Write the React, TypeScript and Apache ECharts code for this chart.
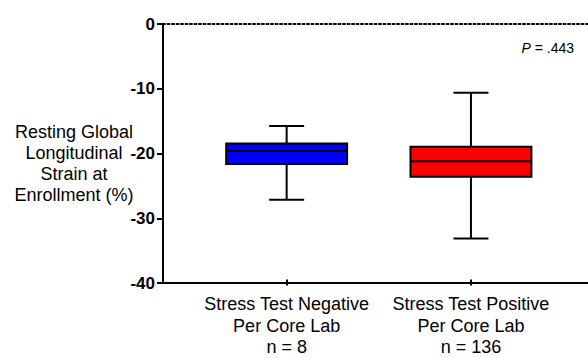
import React, { useEffect, useRef } from "react";
import * as echarts from "echarts";

const categories = ["Stress Test Negative\nPer Core Lab\nn = 8", "Stress Test Positive\nPer Core Lab\nn = 136"];
// [min, q1, median, q3, max]
const negativeBox = [-27.5, -21.9, -19.9, -18.7, -15.95];
const positiveBox = [-33.6, -23.9, -21.5, -19.2, -10.75];
const boxColors = ["#0000FF", "#FF0000"];
const yTicks = { min: -40, max: 0, interval: 10 };
const yAxisTitle = "Resting Global\nLongitudinal\nStrain at\nEnrollment (%)";
const pValue = ".443";

const FONT = "Arial, 'Liberation Sans', Helvetica, sans-serif";

export default function App() {
  const ref = useRef<HTMLDivElement>(null);
  useEffect(() => {
    if (!ref.current) return;
    const chart = echarts.init(ref.current, undefined, { renderer: "svg" });
    const boxes = [negativeBox, positiveBox];
    const data = boxes.map((b, i) => [i, ...b]);
    chart.setOption({
      animation: false,
      grid: [
        { left: 163, right: 0, top: 24, bottom: 75 },
        { left: 194.5, width: 368.6, top: 24, bottom: 75 },
      ],
      xAxis: [
        {
          gridIndex: 0, type: "value", min: 0, max: 1, position: "bottom",
          axisLine: { show: true, onZero: false, lineStyle: { color: "#000", width: 2 } },
          axisTick: { show: false }, axisLabel: { show: false }, splitLine: { show: false },
        },
        {
          gridIndex: 0, type: "value", min: 0, max: 1, position: "top",
          axisLine: { show: true, onZero: false, lineStyle: { color: "#000", width: 2, type: [2, 2.5] } },
          axisTick: { show: false }, axisLabel: { show: false }, splitLine: { show: false },
        },
        {
          gridIndex: 1, type: "category", data: categories, position: "bottom",
          axisLine: { show: true, onZero: false, lineStyle: { color: "rgba(0,0,0,0)", width: 0 } },
          axisTick: { show: true, alignWithLabel: true, length: 6, lineStyle: { color: "#000", width: 2 } },
          axisLabel: { interval: 0, color: "#000", fontFamily: FONT, fontSize: 18, lineHeight: 21.5, margin: 14 },
          splitLine: { show: false },
        },
      ],
      yAxis: [
        {
          gridIndex: 0, type: "value", min: yTicks.min, max: yTicks.max, interval: yTicks.interval,
          axisLine: { show: true, onZero: false, lineStyle: { color: "#000", width: 2 } },
          axisTick: { show: true, length: 6, lineStyle: { color: "#000", width: 2 } },
          axisLabel: { color: "#000", fontFamily: FONT, fontSize: 17, fontWeight: "bold", margin: 8 },
          splitLine: { show: false },
        },
        {
          gridIndex: 1, type: "value", min: yTicks.min, max: yTicks.max, show: false,
        },
      ],
      graphic: [
        {
          type: "text", x: 74, y: 121,
          style: {
            text: yAxisTitle, fill: "#000", font: `18px ${FONT}`, textAlign: "center",
            lineHeight: 21,
          },
        },
        {
          type: "text", x: 574, y: 41,
          style: {
            text: "{i|P} = " + pValue, fill: "#000", font: `14px ${FONT}`, textAlign: "right",
            rich: { i: { fontStyle: "italic", fontSize: 14, fontFamily: FONT } },
          },
        },
      ],
      series: [
        {
          type: "custom",
          xAxisIndex: 2,
          yAxisIndex: 1,
          data,
          encode: { x: 0, y: [1, 2, 3, 4, 5] },
          renderItem: (params: any, api: any) => {
            const idx = api.value(0);
            const band = api.size([1, 0])[0];
            const half = band * 0.328;
            const capHalf = 17.5;
            const pMin = api.coord([idx, api.value(1)]);
            const pQ1 = api.coord([idx, api.value(2)]);
            const pMed = api.coord([idx, api.value(3)]);
            const pQ3 = api.coord([idx, api.value(4)]);
            const pMax = api.coord([idx, api.value(5)]);
            const cx = pMed[0];
            const stroke = { stroke: "#000", lineWidth: 2 };
            return {
              type: "group",
              children: [
                { type: "line", shape: { x1: cx, y1: pQ3[1], x2: cx, y2: pMax[1] }, style: stroke },
                { type: "line", shape: { x1: cx - capHalf, y1: pMax[1], x2: cx + capHalf, y2: pMax[1] }, style: stroke },
                { type: "line", shape: { x1: cx, y1: pQ1[1], x2: cx, y2: pMin[1] }, style: stroke },
                { type: "line", shape: { x1: cx - capHalf, y1: pMin[1], x2: cx + capHalf, y2: pMin[1] }, style: stroke },
                {
                  type: "rect",
                  shape: { x: cx - half, y: pQ3[1], width: half * 2, height: pQ1[1] - pQ3[1] },
                  style: { fill: boxColors[idx], stroke: "#000", lineWidth: 2 },
                },
                { type: "line", shape: { x1: cx - half, y1: pMed[1], x2: cx + half, y2: pMed[1] }, style: stroke },
              ],
            };
          },
        },
      ],
    });
    return () => chart.dispose();
  }, []);
  return <div ref={ref} style={{ width: 588, height: 358, position: "absolute", left: 0, top: 0 }} />;
}
